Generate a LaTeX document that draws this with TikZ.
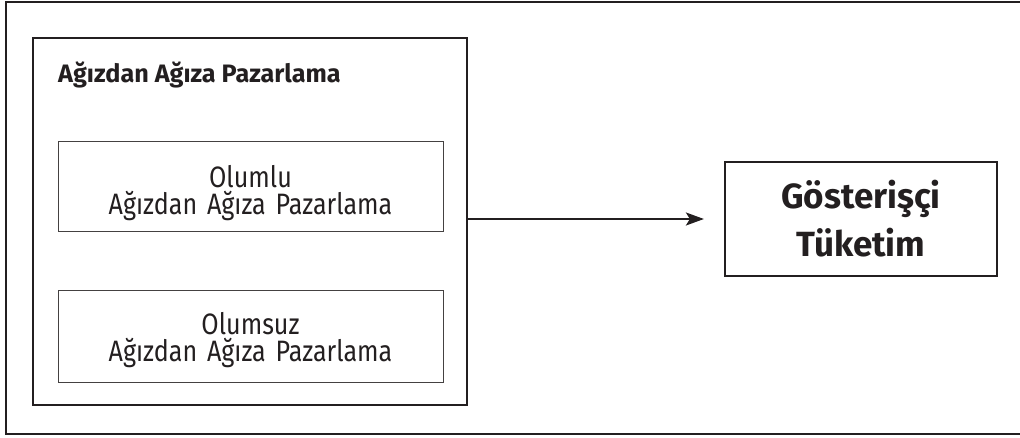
\documentclass[tikz,border=0pt]{standalone}
\usepackage{fontspec}
\setmainfont{Fira Sans}
\newfontfamily\lightfont{Fira Sans}[FakeStretch=0.85]
\usetikzlibrary{arrows.meta}
\definecolor{ink}{HTML}{231F20}
\begin{document}
\begin{tikzpicture}[x=1pt,y=-1pt,
  every node/.style={text=ink},
  frame/.style={draw=ink,line width=2pt},
  subbox/.style={draw=ink!85,line width=1pt,minimum width=385pt,inner sep=0pt},
  subtext/.style={inner sep=0pt,text width=385pt,align=center,font=\lightfont\fontsize{29.5}{27}\selectfont},
  mainbox/.style={draw=ink,line width=2.6pt,inner sep=0pt},
  resbox/.style={draw=ink,line width=2.2pt,minimum width=272pt,minimum height=114pt,inner sep=0pt,text width=272pt,align=center,font=\bfseries\fontsize{35}{48}\selectfont},
  conn/.style={draw=ink,line width=2pt,-{Stealth[length=18pt,width=13pt,inset=4pt]}}]
\useasboundingbox (0,0) rectangle (1020,438);
% outer frame (right side runs past the picture edge)
\draw[frame] (1030,2) -- (6,2) -- (6,434) -- (1030,434);
% main box
\node[mainbox,minimum width=434pt,minimum height=367pt] (main) at (250,221.5) {};
\node[anchor=base west,inner sep=0pt,font=\bfseries\fontsize{25.2}{28}\selectfont] (title) at (58,83) {Ağızdan Ağıza Pazarlama};
\node[subbox,minimum height=90pt] (pos) at (250.5,187) {};
\node[subtext] (postext) at (250.5,193) {Olumlu\\Ağızdan Ağıza Pazarlama};
\node[subbox,minimum height=91pt] (neg) at (250.5,336.5) {};
\node[subtext] (negtext) at (250.5,340) {Olumsuz\\Ağızdan Ağıza Pazarlama};
% result box
\node[resbox] (res) at (861,219) {Gösterişçi\\Tüketim};
\draw[conn,shorten >=20pt] (main.east |- res.west) -- (res.west);
\end{tikzpicture}
\end{document}
